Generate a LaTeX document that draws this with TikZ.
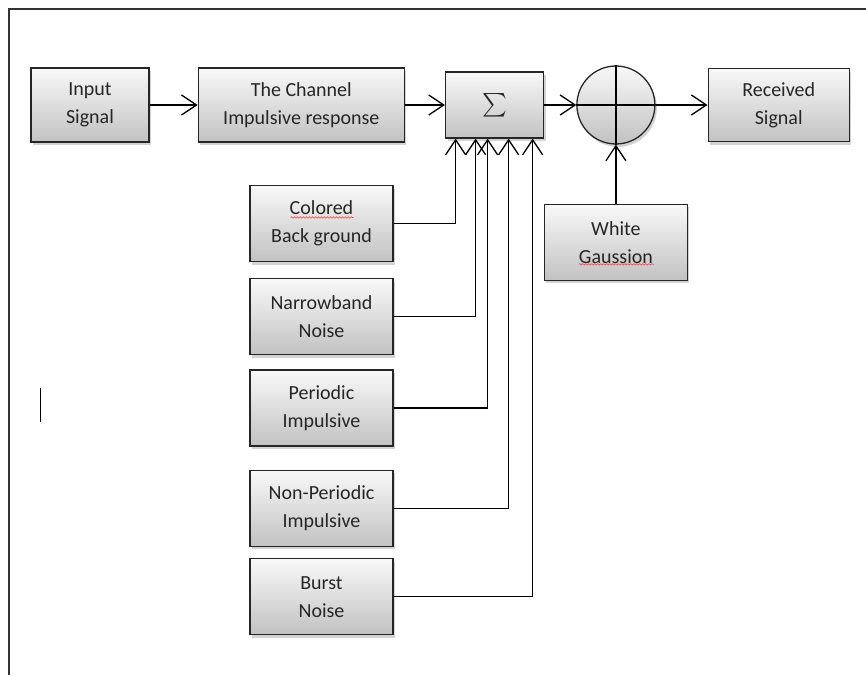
\documentclass[tikz,border=0pt]{standalone}
\usepackage{fontspec}
\setmainfont{Carlito}
\usepackage{graphicx}
\usepackage{tikz}
\usetikzlibrary{arrows.meta,positioning,shadows,calc,decorations.pathmorphing}

\begin{document}
\begin{tikzpicture}[
  x=1pt, y=-1pt,
  blk/.style={draw=black!85, line width=1.3pt, top color=gray!5, bottom color=gray!48,
    drop shadow={shadow xshift=2pt, shadow yshift=-3pt, opacity=0.35, fill=gray},
    align=center, font=\fontsize{20}{28}\selectfont, text=black!85},
  noise/.style={blk, minimum width=143pt, minimum height=76pt},
  arr/.style={-{Straight Barb[length=15pt,width=20pt]}, line width=1.3pt},
  wire/.style={line width=1.3pt},
  spell/.style={red!75, line width=0.6pt, decorate, decoration={snake, amplitude=0.7pt, segment length=3pt}}
]
\useasboundingbox (0,0) rectangle (866,675);

% page frame
\draw[line width=2.5pt, black!80] (9,675) -- (9,9) -- (866,9);
\draw[line width=1pt] (40,388) -- (40,422);

% top row
\node[blk, minimum width=118pt, minimum height=74pt] (input) at (90,105) {Input\\Signal};
\node[blk, minimum width=206pt, minimum height=74pt, right=48pt of input] (chan) {The Channel\\Impulsive response};
\node[blk, minimum width=98pt, minimum height=66pt, right=40pt of chan] (sigma) {\resizebox{!}{24pt}{$\sum$}};
\node[blk, circle, minimum size=78pt, inner sep=0pt, right=32pt of sigma] (add) {};
\node[blk, minimum width=141pt, minimum height=73pt, right=52pt of add] (recv) {Received\\Signal};
\node[blk, minimum width=143pt, minimum height=76pt, below=59pt of add] (white) {White\\Gaussion};

% noise sources
\node[noise] (colored) at (321.5,223.5) {Colored\\Back ground};
\node[noise, below=16pt of colored] (narrow) {Narrowband\\Noise};
\node[noise, below=14pt of narrow] (periodic) {Periodic\\Impulsive};
\node[noise, below=23pt of periodic] (nonper) {Non-Periodic\\Impulsive};
\node[noise, below=11pt of nonper] (burst) {Burst\\Noise};

% signal path
\draw[arr] (input.east) -- (chan.west);
\draw[arr] (chan.east) -- (sigma.west);
\draw[arr] (sigma.east) -- (add.west);
\draw[wire] (add.north) -- (add.south);
\draw[wire] (add.west) -- (add.east);
\draw[arr] (add.east) -- (recv.west);
\draw[arr] (white.north) -- (add.south);

% noise into the sum
\foreach \n/\dx in {colored/-39, narrow/-19, periodic/-7, nonper/14, burst/38} {
  \draw[arr] (\n.east) -| ($(sigma.south)+(\dx,0)$);
}

% spell check marks
\draw[spell] ($(colored.center)+(-31,-6)$) -- ++(63,0);
\draw[spell] ($(white.center)+(-37,22)$) -- ++(75,0);
\end{tikzpicture}
\end{document}
